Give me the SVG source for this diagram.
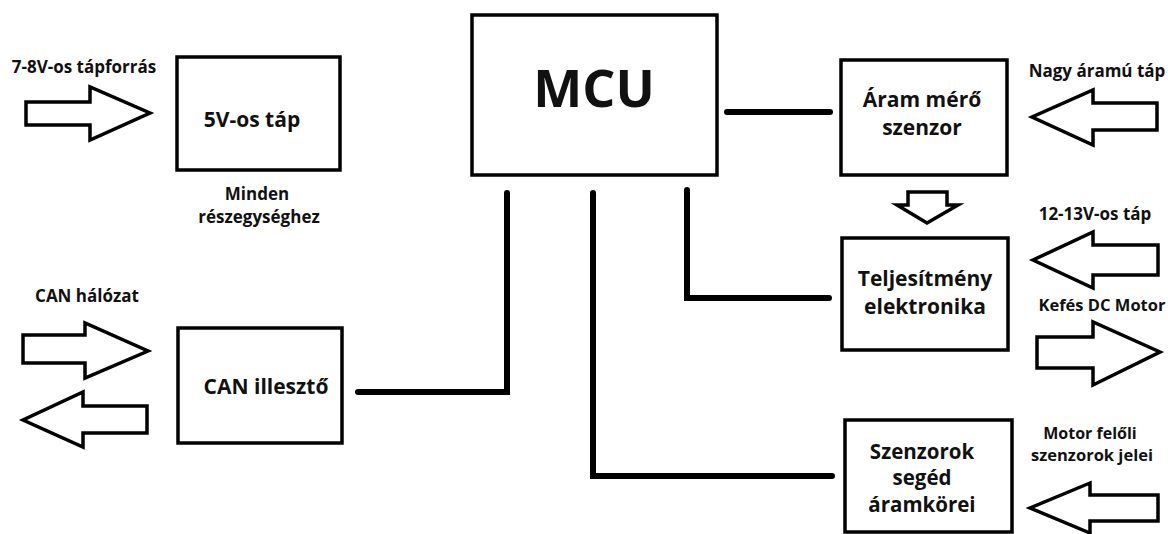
<svg xmlns="http://www.w3.org/2000/svg" width="1168" height="534" viewBox="0 0 1168 534">
  <style>
    .box { fill: #ffffff; stroke: #000000; stroke-width: 3.5; }
    .arrow { fill: #ffffff; stroke: #000000; stroke-width: 3.5; stroke-linejoin: miter; }
    .wire { fill: none; stroke: #000000; stroke-width: 6; stroke-linecap: round; stroke-linejoin: miter; }
    text { font-family: "Open Sans", "Liberation Sans", sans-serif; font-weight: 700; fill: #111111; text-anchor: middle; }
    .lbl { font-size: 17px; }
    .node { font-size: 21px; }
  </style>
  <rect width="1168" height="534" fill="#ffffff"/>

  <!-- power supply input -->
  <g id="supply-in">
    <text class="lbl" x="84" y="73">7-8V-os tápforrás</text>
    <polygon class="arrow" points="26,102 90,102 90,87 150,113 90,140 90,125 26,125"/>
  </g>

  <g id="psu5v">
    <rect class="box" x="177" y="57" width="163" height="113"/>
    <text class="node" x="252" y="127">5V-os táp</text>
    <text class="lbl" x="257" y="200">Minden</text>
    <text class="lbl" x="259" y="223">részegységhez</text>
  </g>

  <!-- CAN bus -->
  <g id="can-bus">
    <text class="lbl" x="87" y="302">CAN hálózat</text>
    <polygon class="arrow" points="23,335 85,335 85,323 148,351 85,378 85,363 23,363"/>
    <polygon class="arrow" points="147,406 83,406 83,392 23,420 83,447 83,433 147,433"/>
  </g>

  <g id="can-interface">
    <rect class="box" x="178" y="328" width="164" height="115"/>
    <text class="node" x="266" y="394">CAN illesztő</text>
  </g>

  <g id="mcu">
    <rect class="box" x="472" y="15" width="245" height="160"/>
    <text x="594" y="107" style="font-size:52px">MCU</text>
  </g>

  <g id="current-sensor">
    <rect class="box" x="841" y="60" width="166" height="115"/>
    <text class="node" x="922" y="107">Áram mérő</text>
    <text class="node" x="922" y="135">szenzor</text>
    <text class="lbl" x="1097" y="77">Nagy áramú táp</text>
    <polygon class="arrow" points="1157,103 1093,103 1093,90 1032,117 1093,145 1093,130 1157,130"/>
  </g>

  <!-- feed from current sensor into power stage -->
  <g id="sensor-to-power">
    <polygon class="arrow" points="908,192 947,192 947,205 958,205 927,223 897,205 908,205"/>
  </g>

  <g id="power-electronics">
    <rect class="box" x="842" y="238" width="166" height="112"/>
    <text class="node" x="925" y="286">Teljesítmény</text>
    <text class="node" x="925" y="314">elektronika</text>
    <text class="lbl" x="1095" y="220">12-13V-os táp</text>
    <polygon class="arrow" points="1158,245 1093,245 1093,232 1033,260 1093,288 1093,275 1158,275"/>
    <text class="lbl" x="1102" y="311" style="font-size:16.5px">Kefés DC Motor</text>
    <polygon class="arrow" points="1037,337 1093,337 1093,322 1160,352 1093,385 1093,368 1037,368"/>
  </g>

  <g id="sensor-circuits">
    <rect class="box" x="845" y="420" width="167" height="112"/>
    <text class="node" x="922" y="459" style="font-size:20.5px">Szenzorok</text>
    <text class="node" x="922" y="485" style="font-size:20.5px">segéd</text>
    <text class="node" x="922" y="512" style="font-size:20.5px">áramkörei</text>
    <text class="lbl" x="1090" y="439" style="font-size:16px">Motor felőli</text>
    <text class="lbl" x="1092" y="461" style="font-size:16.5px">szenzorok jelei</text>
    <polygon class="arrow" points="1158,495 1090,495 1090,483 1030,508 1090,533 1090,521 1158,521"/>
  </g>

  <!-- MCU links -->
  <g id="connectors">
    <polyline class="wire" points="727,112 830,112"/>
    <polyline class="wire" points="358,392 507,392 507,193"/>
    <polyline class="wire" points="593,193 593,476 832,476"/>
    <polyline class="wire" points="687,190 687,298 829,298"/>
  </g>
</svg>
